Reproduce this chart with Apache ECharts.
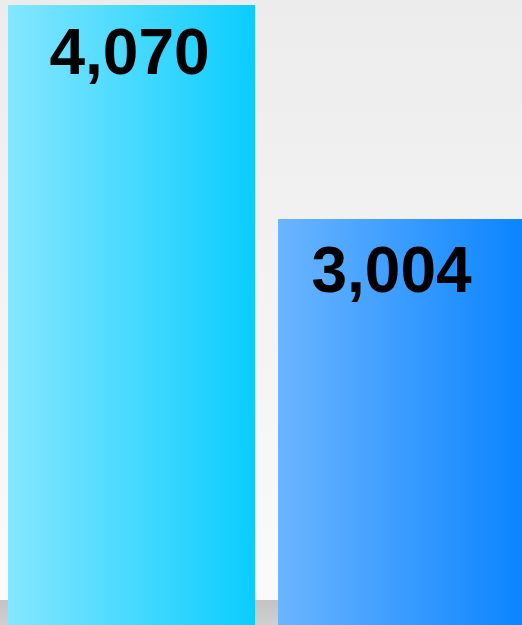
<!DOCTYPE html>
<html>
<head>
<meta charset="utf-8">
<script src="https://cdn.jsdelivr.net/npm/echarts@6/dist/echarts.min.js"></script>
<style>
  html, body { margin: 0; padding: 0; overflow: hidden; width: 522px; height: 625px; background: #fafafa; }
  /* the chart canvas runs past the bottom and right edges of the page */
  #chart { position: absolute; left: -4px; top: 0; width: 545px; height: 822px; }
</style>
</head>
<body>
<div id="chart"></div>
<script>
// Two categories, one value each
const categories = ['A', 'B'];
const values = [4070, 3004];
const labelGaps = [19, 23];
const labelShifts = [-2, -10];
const barGradients = [
  ['#85e6ff', '#0acdff'],
  ['#6bb5ff', '#0a84ff']
];

const chart = echarts.init(document.getElementById('chart'), null, { renderer: 'canvas' });

const fmt = v => v.toString().replace(/\B(?=(\d{3})+(?!\d))/g, ',');

chart.setOption({
  animation: false,
  backgroundColor: {
    type: 'linear', x: 0, y: 0, x2: 0, y2: 1,
    colorStops: [
      { offset: 0, color: '#ececec' },
      { offset: 0.728, color: '#fafafa' },
      { offset: 1, color: '#fafafa' }
    ]
  },
  graphic: [
    {
      type: 'rect',
      z: 0,
      shape: { x: 0, y: 599, width: 545, height: 1 },
      style: { fill: '#fbfbfb' }
    },
    {
      type: 'rect',
      z: 0,
      shape: { x: 0, y: 600, width: 545, height: 222 },
      style: {
        fill: {
          type: 'linear', x: 0, y: 0, x2: 0, y2: 1,
          colorStops: [
            { offset: 0, color: '#c3c3c3' },
            { offset: 0.11, color: '#d0d0d0' },
            { offset: 1, color: '#dddddd' }
          ]
        }
      }
    }
  ],
  grid: { left: 0.5, right: 4.5, top: 5, bottom: 0, containLabel: false },
  xAxis: {
    type: 'category',
    data: categories,
    show: false
  },
  yAxis: {
    type: 'value',
    min: 0,
    max: 4070,
    show: false,
    splitLine: { show: false }
  },
  series: [{
    type: 'bar',
    z: 5,
    barWidth: 247,
    data: values.map((v, i) => ({
      value: v,
      label: { distance: labelGaps[i], offset: [labelShifts[i], 0] },
      itemStyle: {
        color: {
          type: 'linear', x: 0, y: 0, x2: 1, y2: 0,
          colorStops: [
            { offset: 0, color: barGradients[i][0] },
            { offset: 1, color: barGradients[i][1] }
          ]
        }
      }
    })),
    label: {
      show: true,
      position: 'insideTop',
      formatter: p => fmt(p.value),
      color: '#000',
      fontFamily: 'Liberation Sans, Arial, sans-serif',
      fontWeight: 'bold',
      fontSize: 64
    }
  }]
});
</script>
</body>
</html>
